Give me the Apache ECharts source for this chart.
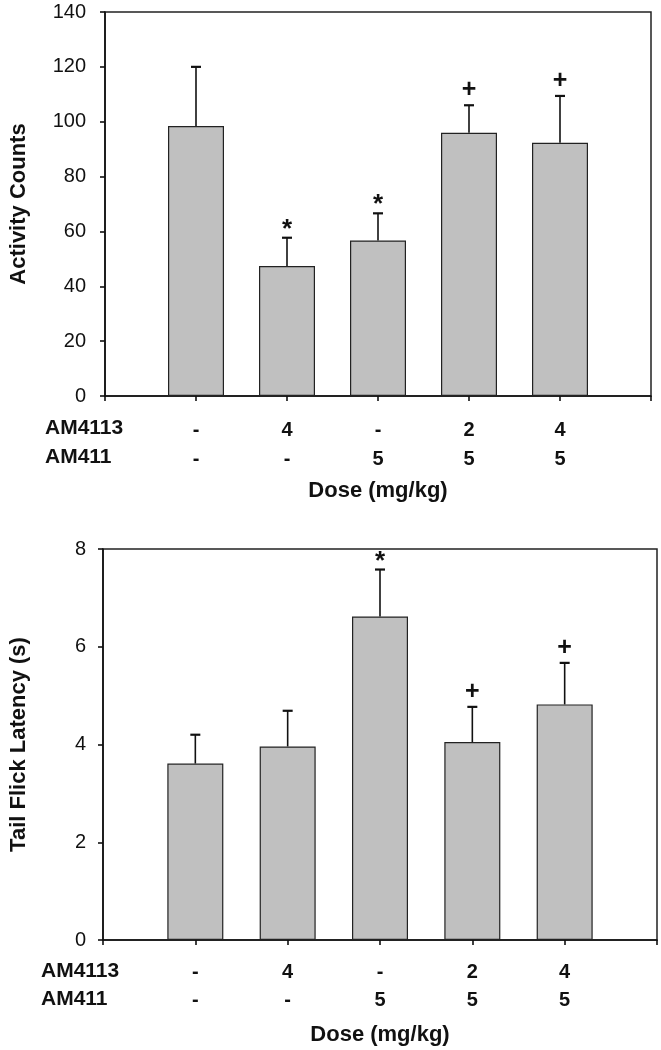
<!DOCTYPE html>
<html>
<head>
<meta charset="utf-8">
<script src="https://cdn.jsdelivr.net/npm/echarts@6/dist/echarts.min.js"></script>
<style>
html,body{margin:0;padding:0;background:#fff;}
#chart{width:661px;height:1050px;}
</style>
</head>
<body>
<div id="chart"></div>
<script>
// ---- data ----
var am4113 = ['-', '4', '-', '2', '4'];
var am411 = ['-', '-', '5', '5', '5'];
var rowNames = ['AM4113', 'AM411'];
var xAxisTitle = 'Dose (mg/kg)';

var topTitle = 'Activity Counts';
var topMeans = [98.4, 47.4, 56.7, 96.0, 92.3];
var topUpper = [120.0, 57.7, 66.6, 106.0, 109.4];
var topSig = ['', '*', '*', '+', '+'];
var topTicks = {min: 0, max: 140, interval: 20};

var botTitle = 'Tail Flick Latency (s)';
var botMeans = [3.61, 3.96, 6.62, 4.05, 4.82];
var botUpper = [4.20, 4.69, 7.58, 4.77, 5.67];
var botSig = ['', '', '*', '+', '+'];
var botTicks = {min: 0, max: 8, interval: 2};

// ---- build ----
var FONT = '"Liberation Sans", Arial, sans-serif';
var cats = [''];
for (var i = 0; i < am4113.length; i++) cats.push(am4113[i] + '\n' + am411[i]);
cats.push('');

function barData(arr) { return arr.map(function (v, i) { return [i + 1, v]; }); }
function errData(m, u) { return m.map(function (v, i) { return [i + 1, v, u[i]]; }); }
function sigData(u, s) { return u.map(function (v, i) { return [i + 1, v, s[i]]; }); }

function errRender(params, api) {
  var p0 = api.coord([api.value(0), api.value(1)]);
  var p1 = api.coord([api.value(0), api.value(2)]);
  var hw = 5;
  return {
    type: 'group',
    children: [
      {type: 'line', shape: {x1: p0[0], y1: p0[1], x2: p1[0], y2: p1[1]}, style: {stroke: '#111', lineWidth: 1.6}},
      {type: 'line', shape: {x1: p1[0] - hw, y1: p1[1], x2: p1[0] + hw, y2: p1[1]}, style: {stroke: '#111', lineWidth: 2.2}}
    ]
  };
}
function sigRender(params, api) {
  var p = api.coord([api.value(0), api.value(1)]);
  var t = params.dataIndex;
  var txt = params.seriesIndex === 2 ? topSig[t] : botSig[t];
  if (!txt) return null;
  var isStar = txt === '*';
  return {
    type: 'text',
    x: p[0], y: p[1] - (isStar ? 8 : 15),
    style: {text: txt, fontFamily: FONT, fontWeight: 'bold', fontSize: isStar ? 26 : 25,
            fill: '#111', align: 'center', verticalAlign: 'middle'}
  };
}

function xAxis(gi) {
  return {
    type: 'category', gridIndex: gi, data: cats, boundaryGap: false,
    axisLine: {lineStyle: {color: '#111', width: 1.6}},
    axisTick: {show: true, length: 5, interval: 0, lineStyle: {color: '#111', width: 1.6}},
    axisLabel: {interval: 0, margin: gi === 0 ? 20 : 18, color: '#111', fontFamily: FONT, fontWeight: 'bold',
                fontSize: 20, lineHeight: gi === 0 ? 29 : 28},
    name: xAxisTitle, nameLocation: 'middle', nameGap: 84,
    nameTextStyle: {color: '#111', fontFamily: FONT, fontWeight: 'bold', fontSize: 22},
    splitLine: {show: false}
  };
}
function yAxis(gi, t, title) {
  return {
    type: 'value', gridIndex: gi, min: t.min, max: t.max, interval: t.interval,
    axisLine: {show: true, lineStyle: {color: '#111', width: 1.6}},
    axisTick: {show: true, length: 5, lineStyle: {color: '#111', width: 1.6}},
    axisLabel: {margin: gi === 0 ? 19 : 17, color: '#111', fontFamily: FONT, fontSize: 20},
    splitLine: {show: false},
    name: title, nameLocation: 'middle', nameGap: gi === 0 ? 75 : 73, nameRotate: 90,
    nameTextStyle: {color: '#111', fontFamily: FONT, fontWeight: 'bold', fontSize: 22}
  };
}

var barStyle = {color: '#c0c0c0', borderColor: '#222', borderWidth: 1.2};

var option = {
  animation: false,
  backgroundColor: '#fff',
  grid: [
    {left: 100, top: 12, width: 551, height: 384, show: true, borderColor: '#222', borderWidth: 1.5, backgroundColor: 'transparent'},
    {left: 98, top: 549, width: 559, height: 391, show: true, borderColor: '#222', borderWidth: 1.5, backgroundColor: 'transparent'}
  ],
  xAxis: [xAxis(0), xAxis(1)],
  yAxis: [yAxis(0, topTicks, topTitle), yAxis(1, botTicks, botTitle)],
  graphic: [
    {type: 'text', left: 45, top: 430 - 12, style: {text: rowNames[0], font: 'bold 21px ' + FONT, fill: '#111'}},
    {type: 'text', left: 45, top: 459 - 12, style: {text: rowNames[1], font: 'bold 21px ' + FONT, fill: '#111'}},
    {type: 'text', left: 41, top: 973 - 12, style: {text: rowNames[0], font: 'bold 21px ' + FONT, fill: '#111'}},
    {type: 'text', left: 41, top: 1001 - 12, style: {text: rowNames[1], font: 'bold 21px ' + FONT, fill: '#111'}}
  ],
  series: [
    {type: 'bar', xAxisIndex: 0, yAxisIndex: 0, data: barData(topMeans), barWidth: 56, itemStyle: barStyle, z: 2},
    {type: 'custom', xAxisIndex: 0, yAxisIndex: 0, data: errData(topMeans, topUpper), renderItem: errRender, z: 3},
    {type: 'custom', xAxisIndex: 0, yAxisIndex: 0, data: sigData(topUpper, topSig), renderItem: sigRender, z: 4},
    {type: 'bar', xAxisIndex: 1, yAxisIndex: 1, data: barData(botMeans), barWidth: 56, itemStyle: barStyle, z: 2},
    {type: 'custom', xAxisIndex: 1, yAxisIndex: 1, data: errData(botMeans, botUpper), renderItem: errRender, z: 3},
    {type: 'custom', xAxisIndex: 1, yAxisIndex: 1, data: sigData(botUpper, botSig), renderItem: sigRender, z: 4}
  ]
};

var chart = echarts.init(document.getElementById('chart'), null, {renderer: 'canvas'});
chart.setOption(option);
</script>
</body>
</html>
